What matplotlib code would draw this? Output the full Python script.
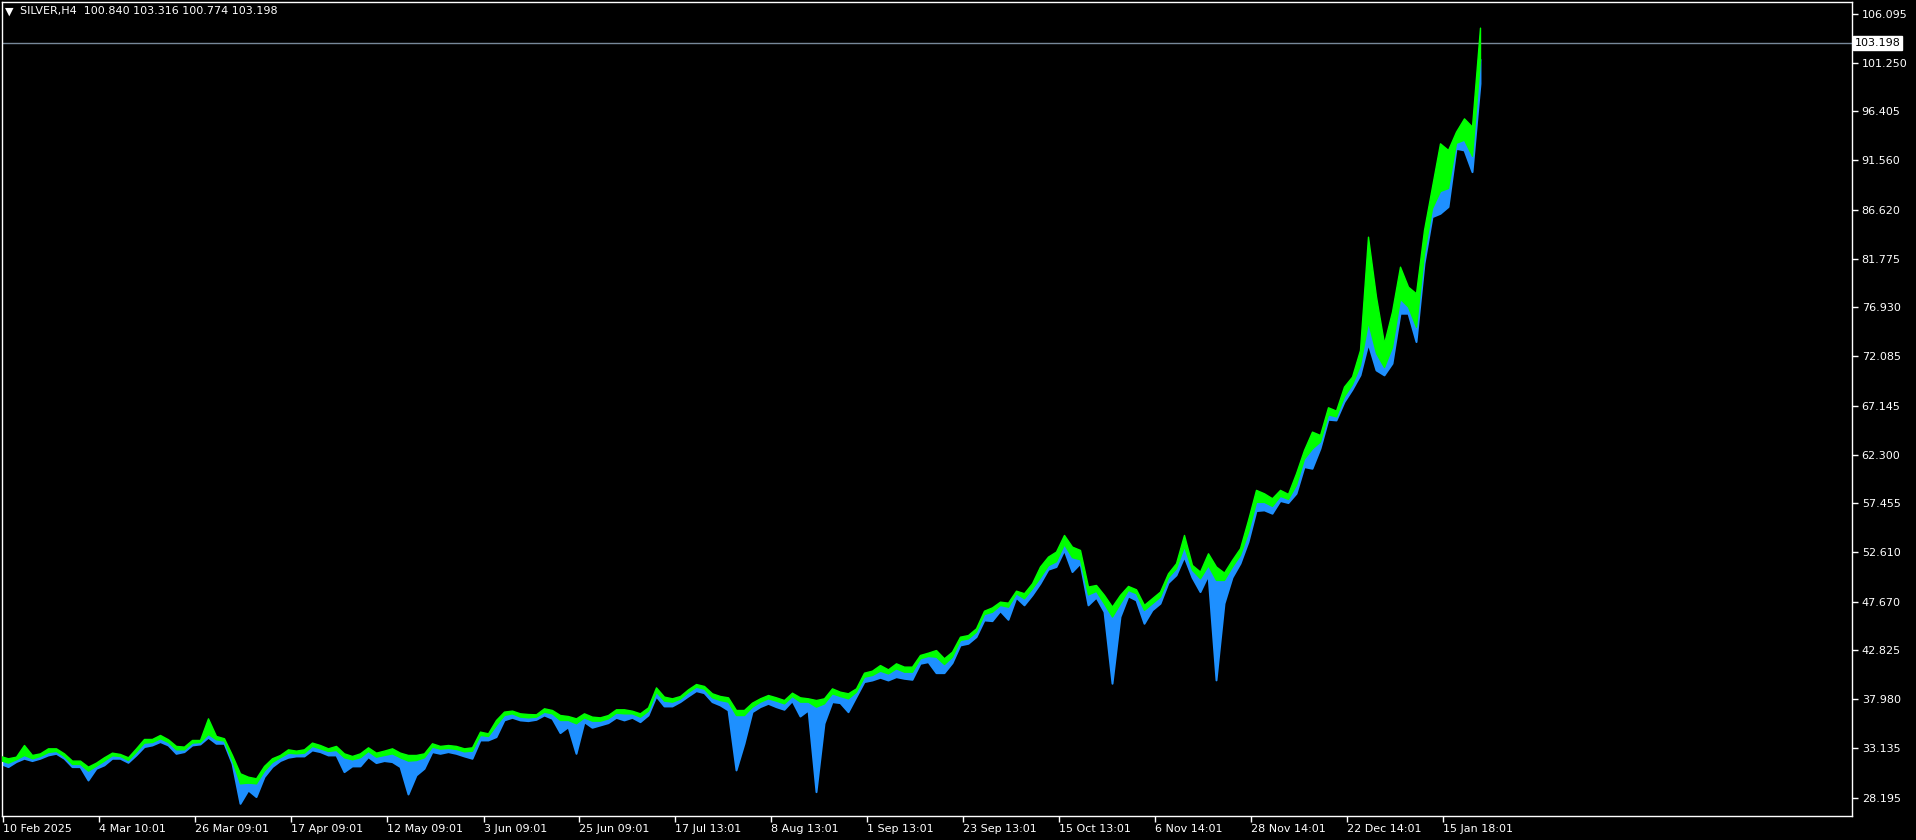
import matplotlib
matplotlib.use("Agg")
import matplotlib.pyplot as plt
import numpy as np

# ---------------- data ----------------
symbol_text = "SILVER,H4  100.840 103.316 100.774 103.198"
last_price = 103.198

# upper edge (green), green/blue boundary and lower edge (blue) of the bar cloud,
# sampled every 8 bars
high = [32.34, 32.11, 32.27, 33.43, 32.44, 32.60, 33.10, 33.10, 32.60, 31.88,
        31.88, 31.28, 31.68, 32.21, 32.67, 32.54, 32.21, 33.10, 34.03, 34.03,
        34.43, 34.00, 33.34, 33.27, 33.93, 33.93, 36.08, 34.33, 34.10, 32.44,
        30.62, 30.28, 30.12, 31.35, 32.11, 32.44, 33.00, 32.87, 33.00, 33.67,
        33.43, 33.10, 33.34, 32.60, 32.34, 32.60, 33.20, 32.67, 32.87, 33.10,
        32.67, 32.44, 32.44, 32.60, 33.60, 33.34, 33.43, 33.34, 33.10, 33.20,
        34.76, 34.59, 35.92, 36.75, 36.85, 36.58, 36.51, 36.48, 37.08, 36.91,
        36.41, 36.31, 36.08, 36.58, 36.25, 36.18, 36.41, 36.98, 36.98, 36.84,
        36.58, 37.17, 39.16, 38.24, 38.07, 38.30, 38.96, 39.49, 39.30, 38.57,
        38.30, 38.17, 36.91, 36.91, 37.64, 38.07, 38.40, 38.17, 37.90, 38.63,
        38.17, 38.07, 37.90, 38.07, 39.06, 38.73, 38.57, 39.06, 40.62, 40.82,
        41.38, 40.95, 41.55, 41.22, 41.22, 42.38, 42.61, 42.87, 42.05, 42.71,
        44.20, 44.36, 45.03, 46.78, 47.11, 47.68, 47.58, 48.77, 48.52, 49.51,
        51.17, 52.16, 52.66, 54.31, 53.15, 52.82, 49.18, 49.34, 48.35, 47.19,
        48.35, 49.24, 48.91, 47.36, 48.02, 48.68, 50.50, 51.50, 54.31, 51.33,
        50.67, 52.49, 51.17, 50.57, 51.83, 52.99, 55.80, 58.79, 58.45, 57.96,
        58.79, 58.39, 60.44, 62.76, 64.58, 64.25, 67.00, 66.67, 69.06, 70.05,
        72.70, 83.96, 78.00, 73.36, 76.51, 80.98, 78.99, 78.33, 84.63, 88.93,
        93.24, 92.58, 94.40, 95.72, 94.90, 104.74]

mid = [31.94, 31.68, 32.01, 32.44, 32.11, 32.34, 32.74, 32.84, 32.34, 31.55,
       31.55, 30.88, 31.38, 31.88, 32.41, 32.34, 31.94, 32.77, 33.67, 33.73,
       34.10, 33.73, 33.00, 33.00, 33.67, 33.73, 34.53, 34.00, 33.87, 31.94,
       29.62, 29.69, 29.62, 30.88, 31.75, 32.21, 32.67, 32.60, 32.67, 33.34,
       33.10, 32.84, 32.94, 32.21, 32.01, 32.21, 32.84, 32.27, 32.44, 32.60,
       32.21, 31.88, 31.94, 32.21, 33.27, 33.07, 33.14, 33.04, 32.80, 32.87,
       34.43, 34.33, 35.42, 36.42, 36.58, 36.25, 36.18, 36.25, 36.74, 36.58,
       35.92, 35.92, 35.59, 36.18, 35.85, 35.85, 36.08, 36.65, 36.58, 36.58,
       36.25, 36.84, 38.73, 37.84, 37.74, 38.04, 38.70, 39.23, 39.03, 38.17,
       37.90, 37.74, 36.41, 36.41, 37.24, 37.74, 38.07, 37.84, 37.57, 38.30,
       37.74, 37.74, 37.24, 37.57, 38.57, 38.30, 38.07, 38.73, 40.22, 40.39,
       40.82, 40.55, 41.05, 40.72, 40.72, 42.05, 42.28, 42.21, 41.48, 42.21,
       43.87, 44.03, 44.70, 46.45, 46.68, 47.35, 47.18, 48.51, 48.02, 49.01,
       50.10, 51.30, 51.70, 53.40, 52.10, 51.90, 48.40, 48.75, 47.50, 46.20,
       47.52, 48.85, 48.52, 46.86, 47.52, 48.18, 50.11, 51.00, 53.20, 50.84,
       50.01, 51.30, 49.84, 49.84, 51.17, 52.33, 54.60, 57.60, 57.60, 57.20,
       58.20, 57.90, 59.30, 61.90, 62.90, 63.60, 66.30, 66.10, 68.10, 69.30,
       71.20, 75.50, 72.40, 71.00, 73.00, 77.80, 77.00, 75.00, 82.30, 86.80,
       88.50, 88.80, 93.30, 93.60, 92.00, 101.60]

low = [31.61, 31.28, 31.78, 32.11, 31.88, 32.11, 32.44, 32.60, 32.11, 31.28,
       31.28, 29.95, 31.11, 31.45, 32.11, 32.11, 31.71, 32.44, 33.27, 33.43,
       33.77, 33.43, 32.60, 32.77, 33.43, 33.53, 34.20, 33.60, 33.60, 31.61,
       27.63, 28.96, 28.30, 30.28, 31.28, 31.88, 32.21, 32.34, 32.34, 32.94,
       32.77, 32.44, 32.44, 30.78, 31.35, 31.35, 32.27, 31.68, 31.88, 31.78,
       31.28, 28.56, 30.45, 31.11, 32.77, 32.60, 32.77, 32.60, 32.34, 32.11,
       33.93, 33.93, 34.26, 35.92, 36.18, 35.92, 35.85, 35.98, 36.41, 36.08,
       34.66, 35.25, 32.60, 35.75, 35.19, 35.42, 35.65, 36.18, 35.92, 36.18,
       35.75, 36.41, 38.30, 37.31, 37.31, 37.74, 38.30, 38.83, 38.63, 37.74,
       37.41, 36.91, 30.95, 33.60, 36.74, 37.24, 37.57, 37.24, 36.98, 37.84,
       36.31, 36.91, 28.79, 35.59, 37.74, 37.64, 36.74, 38.24, 39.73, 39.89,
       40.16, 39.89, 40.22, 40.06, 39.96, 41.55, 41.71, 40.62, 40.62, 41.61,
       43.37, 43.54, 44.20, 45.86, 45.79, 46.78, 45.92, 48.11, 47.36, 48.35,
       49.51, 50.90, 51.17, 52.82, 50.67, 51.50, 47.36, 48.12, 46.69, 39.57,
       46.20, 48.25, 47.85, 45.53, 46.86, 47.52, 49.58, 50.34, 52.16, 50.11,
       48.68, 50.34, 39.90, 47.52, 50.11, 51.50, 53.65, 56.73, 56.80, 56.47,
       57.73, 57.53, 58.45, 61.10, 60.94, 62.93, 65.81, 65.74, 67.56, 68.79,
       70.22, 73.36, 70.71, 70.22, 71.38, 76.35, 76.35, 73.53, 81.31, 85.95,
       86.28, 86.95, 92.74, 92.58, 90.42, 99.20]

bar_step = 8  # bars between samples

price_ticks = [106.095, 101.250, 96.405, 91.560, 86.620, 81.775, 76.930, 72.085,
               67.145, 62.300, 57.455, 52.610, 47.670, 42.825, 37.980, 33.135, 28.195]

date_labels = ["10 Feb 2025", "4 Mar 10:01", "26 Mar 09:01", "17 Apr 09:01",
               "12 May 09:01", "3 Jun 09:01", "25 Jun 09:01", "17 Jul 13:01",
               "8 Aug 13:01", "1 Sep 13:01", "23 Sep 13:01", "15 Oct 13:01",
               "6 Nov 14:01", "28 Nov 14:01", "22 Dec 14:01", "15 Jan 18:01"]
date_label_bars = [3, 99, 195, 291, 387, 484, 579, 675, 771, 867,
                   963, 1059, 1155, 1251, 1347, 1443]

# ---------------- drawing ----------------
W, H = 1916, 840
fig = plt.figure(figsize=(W / 100, H / 100), dpi=100, facecolor="black")
left_px, right_px, top_px, bottom_px = 2, 1852, 2, 816
ax = fig.add_axes([left_px / W, (H - bottom_px) / H,
                   (right_px - left_px) / W, (bottom_px - top_px) / H])
ax.set_facecolor("black")

x = np.arange(len(high)) * bar_step
GREEN = "#00FF00"
BLUE = "#1E90FF"
ax.fill_between(x, low, mid, color=BLUE, lw=1.4, edgecolor=BLUE, zorder=2)
ax.fill_between(x, mid, high, color=GREEN, lw=1.0, edgecolor=GREEN, zorder=3)

ax.axhline(last_price, color="#778899", lw=1.0, zorder=1)

ax.set_xlim(left_px, right_px)
ax.set_ylim(26.373, 107.288)

for s in ax.spines.values():
    s.set_color("white")
    s.set_linewidth(1.0)

font = "DejaVu Sans"
ax.yaxis.tick_right()
ax.set_yticks(price_ticks)
ax.set_yticklabels([f"{p:.3f}" for p in price_ticks], fontsize=8, color="white",
                   family=font)
ax.tick_params(axis="y", colors="white", length=4, width=1, pad=3,
               labelcolor="white")

ax.set_xticks(date_label_bars)
ax.set_xticklabels(date_labels, fontsize=8, color="white", family=font, ha="left")
ax.tick_params(axis="x", colors="white", length=4, width=1, pad=2,
               labelcolor="white")
for lbl in ax.get_xticklabels():
    lbl.set_horizontalalignment("left")

# current price label on the axis
ax.text(1.0015, last_price, f"{last_price:.3f}", transform=ax.get_yaxis_transform(),
        ha="left", va="center", fontsize=8, color="black", family=font,
        bbox=dict(boxstyle="square,pad=0.15", fc="white", ec="white"),
        clip_on=False, zorder=10)

# header text
fig.text(5 / W, 1 - 12 / H, "\u25BC", fontsize=8, color="white", va="center",
         ha="left", family=font)
fig.text(20 / W, 1 - 11 / H, symbol_text, fontsize=8, color="white", va="center",
         ha="left", family=font)

fig.savefig("out.png", dpi=100, facecolor="black")
